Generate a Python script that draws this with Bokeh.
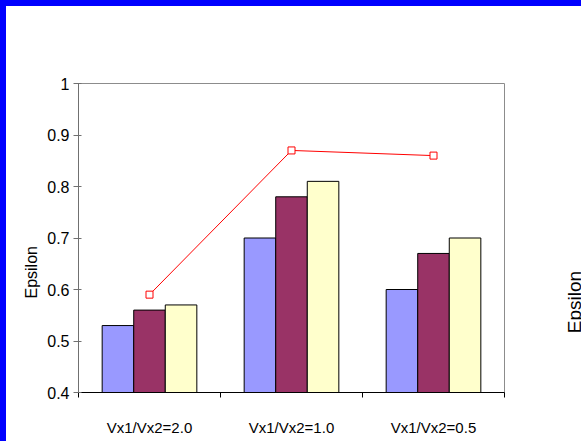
import math
from bokeh.plotting import figure
from bokeh.models import Range1d, FixedTicker, NumeralTickFormatter, LinearAxis, Title
from bokeh.embed import file_html
from bokeh.resources import INLINE

# Data
categories = ["Vx1/Vx2=2.0", "Vx1/Vx2=1.0", "Vx1/Vx2=0.5"]
series_a = [0.53, 0.70, 0.60]
series_b = [0.56, 0.78, 0.67]
series_c = [0.57, 0.81, 0.70]
line_values = [0.59, 0.87, 0.86]
y_ticks = [0.4, 0.5, 0.6, 0.7, 0.8, 0.9, 1.0]
axis_title = "Epsilon"

bar_colors = ["#9999FF", "#993366", "#FFFFCC"]
sans = "Liberation Sans, Arial, sans-serif"

n = len(categories)
centers = [i + 0.5 for i in range(n)]
bar_w = 1 / 4.5  # three bars plus a 150% gap per category

# the canvas runs a little past the page's right edge, where the
# neighbouring chart's axis title is cut off
p = figure(width=598, height=441, output_backend="svg", toolbar_location=None,
           x_range=Range1d(0, n), y_range=Range1d(0.4, 1.0),
           min_border_left=78, min_border_right=93, min_border_top=83, min_border_bottom=49)
p.styles = {"background-color": "white", "box-shadow": "inset 6px 6px 0 0 #0000FF"}
p.border_fill_color = None
p.background_fill_color = "white"
p.outline_line_color = "#8c8c8c"
p.outline_line_width = 1
p.xgrid.visible = False
p.ygrid.visible = False

for j, (vals, col) in enumerate(zip([series_a, series_b, series_c], bar_colors)):
    xs = [c + (j - 1) * bar_w for c in centers]
    p.vbar(x=xs, top=vals, bottom=0.4, width=bar_w, fill_color=col,
           line_color="black", line_width=1)

p.line(centers, line_values, line_color="#FF0000", line_width=1)
p.scatter(centers, line_values, marker="square", size=7, fill_color="white",
          line_color="#FF0000", line_width=1)

# x axis: labels at category centres, tick marks at category boundaries
xa = p.xaxis[0]
xa.ticker = FixedTicker(ticks=centers, minor_ticks=[float(i) for i in range(n + 1)])
xa.major_label_overrides = {c: lab for c, lab in zip(centers, categories)}
xa.major_tick_out = 0
xa.major_tick_in = 0
xa.minor_tick_out = 5
xa.minor_tick_in = 0
xa.minor_tick_line_color = "black"
xa.axis_line_color = "black"
xa.major_label_standoff = 21
xa.major_label_text_font = sans
xa.major_label_text_font_size = "15px"
xa.major_label_text_color = "black"

ya = p.yaxis[0]
ya.ticker = FixedTicker(ticks=y_ticks, minor_ticks=[])
ya.formatter = NumeralTickFormatter(format="0.[0]")
ya.axis_line_color = "#707070"
ya.major_tick_line_color = "#707070"
ya.major_tick_out = 5
ya.major_tick_in = 3
ya.major_label_standoff = 4
ya.major_label_text_font = sans
ya.major_label_text_font_size = "16px"
ya.major_label_text_color = "black"

# y axis title, set a little below the middle of the axis
p.add_layout(Title(text=axis_title, align="left", offset=94, standoff=10,
                   text_font=sans, text_font_size="16px", text_font_style="normal",
                   text_color="black"), "left")

# the neighbouring chart's axis title, at the right edge
ra = LinearAxis(ticker=FixedTicker(ticks=[0.515], minor_ticks=[]),
                major_label_overrides={0.515: axis_title})
ra.axis_line_color = None
ra.major_tick_line_color = None
ra.major_tick_out = 0
ra.major_tick_in = 0
ra.major_label_standoff = 70
ra.major_label_orientation = math.pi / 2
ra.major_label_text_font = sans
ra.major_label_text_font_size = "19px"
ra.major_label_text_color = "black"
p.add_layout(ra, "right")

open("out.html", "w").write(file_html(p, INLINE))
